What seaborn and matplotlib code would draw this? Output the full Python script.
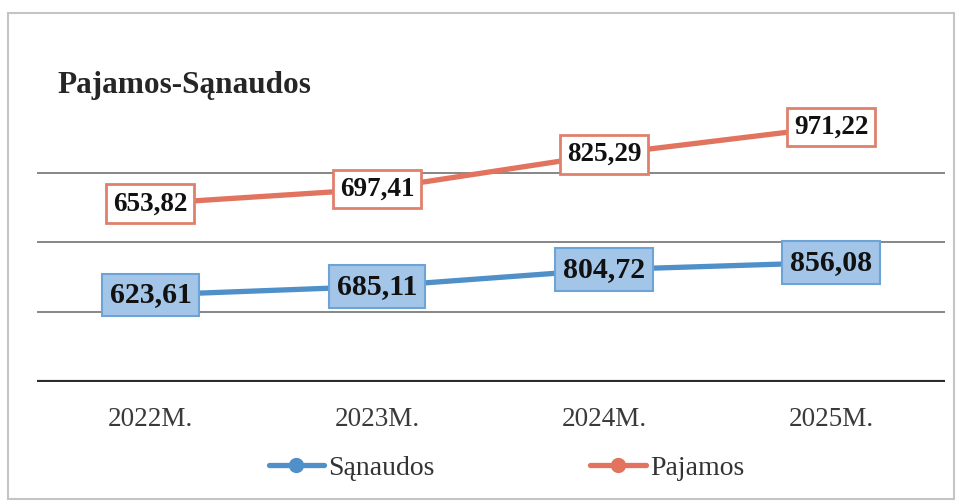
import numpy as np
import pandas as pd
import matplotlib
matplotlib.use("Agg")
import matplotlib.pyplot as plt
import seaborn as sns

sns.set_theme(style="white")
plt.rcParams['font.family'] = ['Liberation Serif', 'DejaVu Serif']

years = ['2022M.', '2023M.', '2024M.', '2025M.']
sanaudos = [623.61, 685.11, 804.72, 856.08]
pajamos = [653.82, 697.41, 825.29, 971.22]
series_names = ['Sąnaudos', 'Pajamos']
colors = ['#4f90c9', '#e1735f']

# stacked line chart: Pajamos sits on top of Sąnaudos
df = pd.DataFrame({'year': years, 'Sąnaudos': sanaudos, 'Pajamos': pajamos})
df['Pajamos_stacked'] = df['Sąnaudos'] + df['Pajamos']
long_df = pd.concat([
    pd.DataFrame({'year': years, 'value': df['Sąnaudos'], 'series': 'Sąnaudos'}),
    pd.DataFrame({'year': years, 'value': df['Pajamos_stacked'], 'series': 'Pajamos'}),
])

fig = plt.figure(figsize=(9.61, 5.04), dpi=100)
fig.patch.set_facecolor('white')
ax = fig.add_axes([0.0385, 0.242, 0.9445, 0.554])

sns.lineplot(data=long_df, x='year', y='value', hue='series', hue_order=series_names,
             palette=colors, marker='o', markersize=11, linewidth=3.8,
             markeredgewidth=0, sort=False, ax=ax, legend=True)

ax.set_xlim(-0.5, 3.5)
ax.set_ylim(0, 2000)
ax.set_yticks([])
for g in [500, 1000, 1500]:
    ax.axhline(g, color='#666666', lw=1.1, zorder=0)
ax.axhline(0, color='#2b2b2b', lw=3, zorder=1)
for s in ax.spines.values():
    s.set_visible(False)
ax.set_xlabel('')
ax.set_ylabel('')
ax.tick_params(axis='x', length=0, pad=18, labelsize=19.5, labelcolor='#3a3a3a')

# data labels (show raw values, placed at the stacked points)
for i in range(len(years)):
    ax.text(i, df['Sąnaudos'][i], f"{sanaudos[i]:.2f}".replace('.', ','),
            ha='center', va='center', fontsize=21.5, fontweight='bold', color='#111111', zorder=5,
            bbox=dict(boxstyle='square,pad=0.26', fc='#a3c5e8', ec='#6ea3d6', lw=1.5))
    ax.text(i, df['Pajamos_stacked'][i], f"{pajamos[i]:.2f}".replace('.', ','),
            ha='center', va='center', fontsize=19.5, fontweight='bold', color='#111111', zorder=5,
            bbox=dict(boxstyle='square,pad=0.25', fc='white', ec='#e0806c', lw=2))

handles, labels = ax.get_legend_handles_labels()
ax.get_legend().remove()
fig.legend(handles, labels, loc='center', bbox_to_anchor=(0.527, 0.071), ncol=2,
           frameon=False, fontsize=20, handlelength=2.0, handletextpad=0.15,
           columnspacing=5.6, labelcolor='#333333')

fig.text(0.06, 0.83, 'Pajamos-Sąnaudos', fontsize=22.5, fontweight='bold', color='#262626',
         ha='left', va='center')

# faint page frame like the scanned chart
fig.add_artist(plt.Rectangle((0.008, 0.01), 0.985, 0.965, transform=fig.transFigure,
                             fill=False, ec='#c4c4c4', lw=1.5))

fig.savefig('out.png', dpi=100, facecolor='white')
